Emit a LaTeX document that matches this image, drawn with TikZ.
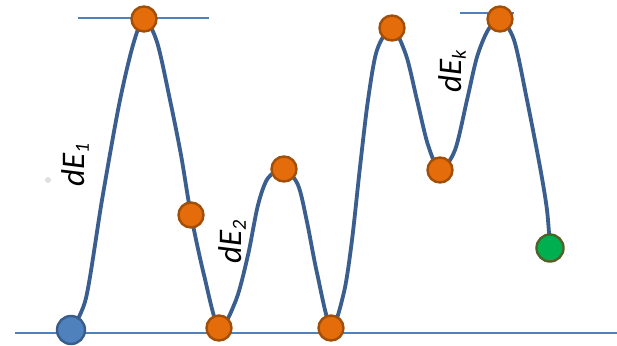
\documentclass[tikz,border=0pt]{standalone}
\usepackage{fontspec}
\newfontfamily\labfont{Carlito}
\pgfdeclarelayer{background}
\pgfsetlayers{background,main}
\definecolor{curveblue}{RGB}{58,95,143}
\definecolor{lineblue}{RGB}{79,129,189}
\definecolor{orfill}{RGB}{228,108,10}
\definecolor{ordraw}{RGB}{160,78,8}
\definecolor{blfill}{RGB}{79,129,189}
\definecolor{bldraw}{RGB}{56,93,138}
\definecolor{grfill}{RGB}{0,176,80}
\definecolor{grdraw}{RGB}{79,98,40}
\tikzset{
  state/.style={circle, line width=2.4pt, inner sep=0pt, minimum size=25pt},
  orstate/.style={state, fill=orfill, draw=ordraw},
  blstate/.style={state, fill=blfill, draw=bldraw, minimum size=28pt},
  grstate/.style={state, fill=grfill, draw=grdraw, minimum size=27pt},
  energy/.style={draw=curveblue, line width=3.8pt, line join=round},
  level/.style={draw=lineblue, line width=1.6pt},
  lab/.style={rotate=90, font=\labfont\itshape\fontsize{33}{38}\selectfont, inner sep=0pt}
}
\newcommand{\sbs}[1]{\raisebox{-0.3ex}{\fontsize{20}{24}\selectfont #1}}
\begin{document}
\begin{tikzpicture}[x=1pt,y=-1pt]
\useasboundingbox (0,0) rectangle (617,345);
% level lines
\coordinate (b1) at (15,333);
\coordinate (b2) at (617,333);
\coordinate (t1a) at (78,18);
\coordinate (t1b) at (209,18);
\coordinate (t2a) at (460,13);
\coordinate (t2b) at (514,13);
\draw[level] (b1) -- (b2);
\draw[level] (t1a) -- (t1b);
\draw[level] (t2a) -- (t2b);
% states
\node[blstate] (s0) at (71,330) {};
\node[orstate] (p1) at (144,19) {};
\node[orstate] (m1) at (191,215) {};
\node[orstate] (v1) at (219,328) {};
\node[orstate] (p2) at (284,169) {};
\node[orstate] (v2) at (331,328) {};
\node[orstate] (p3) at (392,28) {};
\node[orstate] (v3) at (440,170) {};
\node[orstate] (p4) at (500,19) {};
\node[grstate] (s1) at (550,248) {};
% energy curve
\begin{pgfonlayer}{background}
\fill[white] (0,0) rectangle (617,345);
\draw[energy] plot[smooth, tension=0.5] coordinates {
 (71,330) (86,298) (102,200) (119,105) (133,45) (144,19)
 (157,42) (170,100) (181,155) (191,215) (204,275) (219,328)
 (236,300) (248,255) (258,205) (268,178) (284,169)
 (298,185) (307,222) (317,273) (331,328)
 (344,292) (352,240) (360,167) (368,100) (377,50) (392,28)
 (406,55) (417,100) (428,145) (440,170)
 (455,150) (467,100) (477,57) (488,30) (500,19)
 (514,40) (527,100) (540,167) (547,210) (550,248)
};
\end{pgfonlayer}
% labels
\fill[black!12] (48,180) circle (3pt);
\node[lab] (l1) at (75,165) {dE\sbs{1}};
\node[lab] (l2) at (232,242) {dE\sbs{2}};
\node[lab] (l3) at (452,71) {dE\sbs{k}};
\end{tikzpicture}
\end{document}
